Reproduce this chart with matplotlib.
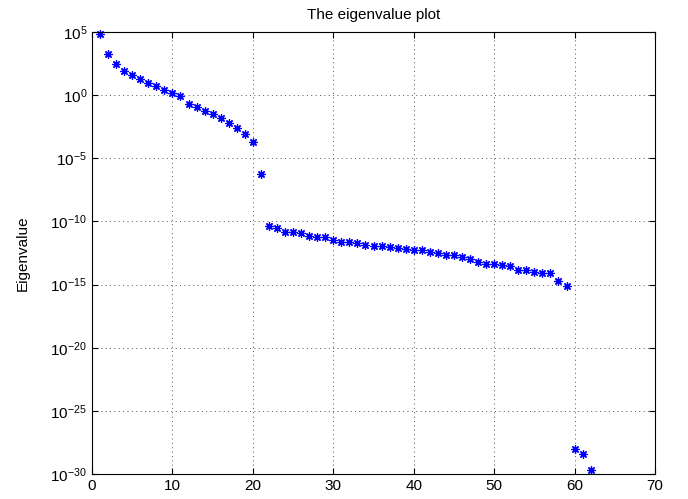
import numpy as np
import matplotlib
matplotlib.use('Agg')
import matplotlib.pyplot as plt
from matplotlib.ticker import FixedLocator

plt.rcParams['font.family'] = ['Liberation Sans', 'DejaVu Sans']

# log10 of eigenvalues
idx = np.arange(1, 63)
log_eig = [4.82, 3.23, 2.44, 1.94, 1.57, 1.28, 0.96, 0.70, 0.43, 0.15,
           -0.07, -0.68, -0.91, -1.23, -1.51, -1.81, -2.18, -2.60, -3.05, -3.73,
           -6.22, -10.38, -10.54, -10.86, -10.86, -10.94, -11.15, -11.20, -11.20, -11.49,
           -11.65, -11.65, -11.73, -11.86, -11.92, -11.97, -12.05, -12.08, -12.18, -12.26,
           -12.30, -12.40, -12.47, -12.63, -12.68, -12.79, -13.00, -13.21, -13.35, -13.37,
           -13.42, -13.50, -13.84, -13.87, -14.00, -14.05, -14.10, -14.74, -15.09, -28.04,
           -28.44, -29.70]
eig = 10.0 ** np.array(log_eig)
xticks = [0, 10, 20, 30, 40, 50, 60, 70]
yticks = [1e5, 1e0, 1e-5, 1e-10, 1e-15, 1e-20, 1e-25, 1e-30]

fig = plt.figure(figsize=(6.88, 4.99), dpi=100)
ax = fig.add_axes([92/688, 1-474/499, (655-92)/688, (474-32)/499])
ax.semilogy(idx, eig, linestyle='none', marker=(8, 2, 0), color='#0000ff',
            markersize=6, markeredgewidth=0.9, clip_on=False)
ax.set_xlim(0, 70)
ax.set_ylim(1e-30, 1e5)
ax.xaxis.set_major_locator(FixedLocator(xticks))
ax.yaxis.set_major_locator(FixedLocator(yticks))
ax.yaxis.set_minor_locator(FixedLocator([]))
ax.grid(True, which='major', linestyle=(0, (1, 3.5)), color='#555555', linewidth=0.7)
ax.tick_params(direction='in', top=True, right=True, labelsize=11, length=4, width=0.8)
for s in ax.spines.values():
    s.set_linewidth(0.8)
ax.set_title('The eigenvalue plot', fontsize=11, pad=9)
ax.set_ylabel('Eigenvalue', fontsize=11, labelpad=15)
fig.savefig('out.png', dpi=100)
